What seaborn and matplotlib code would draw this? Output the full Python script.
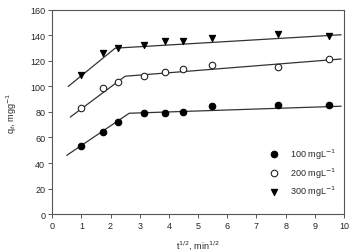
import numpy as np
import pandas as pd
import matplotlib
matplotlib.use("Agg")
import matplotlib.pyplot as plt
import seaborn as sns

# data
x_vals = [1.0, 1.73, 2.24, 3.16, 3.87, 4.47, 5.48, 7.75, 9.49]
q_100 = [53, 64, 72, 79.5, 79.5, 80, 84.5, 85.5, 85.5]
q_200 = [83, 99, 103.5, 108, 111.5, 114, 117, 115.5, 121.5]
q_300 = [109, 126, 130, 132.5, 136, 136, 138, 141, 139.5]
series_labels = ["100 mgL$^{-1}$", "200 mgL$^{-1}$", "300 mgL$^{-1}$"]

# fitted piecewise lines
fit_x_100 = [0.5, 2.64, 9.9]
fit_y_100 = [46, 79, 84.5]
fit_x_200 = [0.62, 2.5, 9.9]
fit_y_200 = [76, 108, 121.5]
fit_x_300 = [0.55, 2.16, 9.9]
fit_y_300 = [100, 130, 140.5]

x_ticks = list(range(0, 11))
y_ticks = list(range(0, 161, 20))

sns.set_style("ticks")
plt.rcParams['font.family'] = ['Liberation Sans', 'DejaVu Sans']

fig = plt.figure(figsize=(3.5, 2.53), dpi=100)
ax = fig.add_axes([0.149, 0.150, 0.834, 0.807])

line_color = "#333333"
for fx, fy in [(fit_x_100, fit_y_100), (fit_x_200, fit_y_200), (fit_x_300, fit_y_300)]:
    sns.lineplot(x=fx, y=fy, ax=ax, color=line_color, linewidth=0.9,
                 estimator=None, sort=False, legend=False)

styles = [
    dict(marker="o", facecolor="black", edgecolor="black", s=22),
    dict(marker="o", facecolor="white", edgecolor="#222222", s=22),
    dict(marker="v", facecolor="black", edgecolor="black", s=20),
]
for q, lab, st in zip([q_100, q_200, q_300], series_labels, styles):
    sns.scatterplot(x=x_vals, y=q, ax=ax, marker=st["marker"], s=st["s"],
                    color=st["facecolor"], edgecolor=st["edgecolor"],
                    linewidth=0.8, label=lab, zorder=3)

ax.set_xlim(0, 10)
ax.set_ylim(0, 160)
ax.set_xticks(x_ticks)
ax.set_yticks(y_ticks)
ax.tick_params(labelsize=6.5, length=3, width=0.7, color="#555555", pad=2)
for sp in ax.spines.values():
    sp.set_visible(True)
    sp.set_color("#555555")
    sp.set_linewidth(0.8)

ax.set_xlabel("t$^{1/2}$, min$^{1/2}$", fontsize=6.5, labelpad=6)
ax.set_ylabel("q$_t$, mgg$^{-1}$", fontsize=6.5, labelpad=8)

leg = ax.legend(loc="lower right", bbox_to_anchor=(0.99, 0.05), frameon=False,
                fontsize=6.5, handletextpad=0.8, labelspacing=0.5,
                borderaxespad=0.2)

fig.savefig("out.png", dpi=100)
